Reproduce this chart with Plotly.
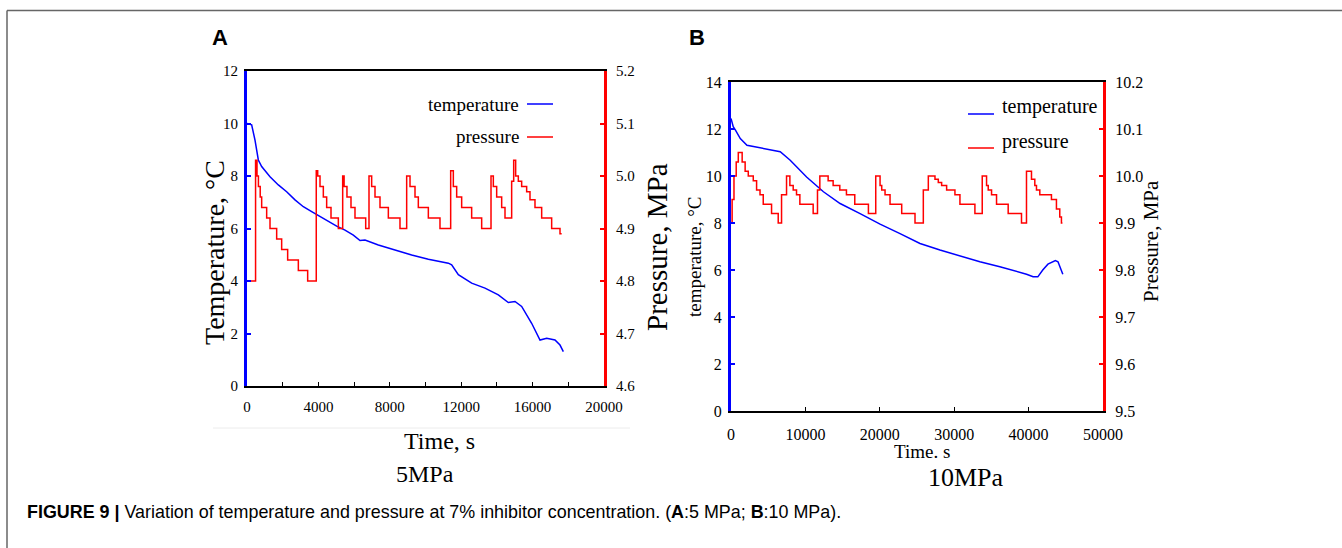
import plotly.graph_objects as go

W, H = 1342, 548

# ---------------- Panel A (5 MPa) ----------------
a_time_T = [0, 261, 448, 635, 822, 1289, 1755, 2222, 2689, 3156, 3623, 4090, 4556, 5023, 5490,
            5957, 6331, 6611, 7358, 8291, 9225, 10159, 11279, 11466, 11839, 12586, 13333, 14080,
            14640, 15014, 15387, 15947, 16415, 16788, 17255, 17535, 17722]
a_temp = [10.0, 9.95, 9.37, 8.61, 8.36, 7.97, 7.66, 7.40, 7.09, 6.83, 6.64, 6.45, 6.26, 6.09, 5.94,
          5.75, 5.54, 5.56, 5.37, 5.18, 4.99, 4.83, 4.68, 4.62, 4.24, 3.92, 3.73, 3.47,
          3.18, 3.22, 3.03, 2.39, 1.75, 1.82, 1.75, 1.56, 1.31]

a_time_P = [0, 480, 560, 640, 740, 822, 1102, 1289, 1662, 1942, 2278, 2876, 3399, 3880, 3960,
            4090, 4276, 4463, 4706, 5117, 5360, 5440, 5600, 5826, 6050, 6650, 6835, 6984, 7171, 7451,
            7918, 8571, 8945, 9132, 9412, 9598, 10159, 10812, 11410, 11559, 11746, 12026, 12586, 13147,
            13670, 13800, 13987, 14267, 14454, 14827, 14940, 15051, 15200, 15387, 15667, 15854, 16134,
            16508, 17068, 17535, 17628]
a_press = [4.80, 5.03, 5.00, 4.98, 4.96, 4.94, 4.92, 4.90, 4.88, 4.86, 4.84, 4.82, 4.80, 5.01, 5.00,
           4.98, 4.96, 4.94, 4.92, 4.90, 5.00, 4.98, 4.96, 4.94, 4.92, 4.90, 5.00, 4.98, 4.96, 4.94,
           4.92, 4.90, 5.00, 4.98, 4.96, 4.94, 4.92, 4.90, 5.01, 4.98, 4.96, 4.94, 4.92, 4.90,
           5.00, 4.98, 4.96, 4.94, 4.92, 4.99, 5.03, 5.00, 4.99, 4.98, 4.97, 4.955, 4.94,
           4.92, 4.90, 4.89, 4.89]

a_x_ticks = [0, 4000, 8000, 12000, 16000, 20000]
a_T_ticks = [0, 2, 4, 6, 8, 10, 12]
a_P_ticks = [4.6, 4.7, 4.8, 4.9, 5.0, 5.1, 5.2]

# ---------------- Panel B (10 MPa) ----------------
b_time_T = [0, 300, 600, 1248, 2147, 4375, 6616, 7958, 10158, 12426, 14667, 17351, 20035, 22719,
            25403, 28087, 30771, 33454, 36138, 37928, 39720, 40608, 41239, 41900, 42600, 43600,
            43950, 44600]
b_temp = [12.45, 12.1, 11.95, 11.59, 11.31, 11.17, 11.03, 10.67, 9.96, 9.33, 8.83, 8.40, 7.95, 7.55,
          7.13, 6.85, 6.59, 6.35, 6.14, 5.99, 5.82, 5.71, 5.71, 6.0, 6.25, 6.40,
          6.35, 5.82]

b_time_P = [0, 150, 400, 700, 980, 1500, 1900, 2322, 2993, 3440, 3900, 4334, 5452, 6347, 6794,
            7465, 7913, 8360, 8807, 9255, 11044, 11625, 11939, 13057, 13728, 14623, 15517, 16636,
            18469, 19454, 20035, 20259, 20706, 21377, 22943, 24732, 25850, 26521, 27416, 27863,
            28310, 28982, 30099, 30771, 32784, 33767, 34349, 34572, 35020, 35691, 37256, 39046,
            39717, 40388, 40835, 41059, 41506, 43071, 43742, 44190, 44413, 44550]
b_press = [9.90, 9.95, 10.00, 10.03, 10.05, 10.03, 10.01, 10.00, 9.99, 9.97, 9.96, 9.94, 9.92, 9.90, 9.96,
           10.00, 9.98, 9.97, 9.96, 9.94, 9.92, 9.97, 10.00, 9.99, 9.98, 9.97, 9.96, 9.94,
           9.92, 10.00, 9.98, 9.97, 9.96, 9.94, 9.92, 9.90, 9.97, 10.00, 9.993, 9.986,
           9.98, 9.97, 9.96, 9.94, 9.92, 10.00, 9.98, 9.97, 9.96, 9.94, 9.92, 9.90,
           10.01, 9.993, 9.98, 9.97, 9.96, 9.95, 9.93, 9.913, 9.90, 9.90]

b_x_ticks = [0, 10000, 20000, 30000, 40000, 50000]
b_T_ticks = [0, 2, 4, 6, 8, 10, 12, 14]
b_P_ticks = [9.5, 9.6, 9.7, 9.8, 9.9, 10.0, 10.1, 10.2]

BLUE = "#0000ff"
RED = "#ff0000"
SERIF = "Liberation Serif"


def px(x):
    return x / W


def py(y):
    return 1 - y / H


fig = go.Figure()
fig.add_trace(go.Scatter(x=a_time_T, y=a_temp, mode="lines", line=dict(color=BLUE, width=1.5),
                         xaxis="x", yaxis="y", showlegend=False))
fig.add_trace(go.Scatter(x=a_time_P, y=a_press, mode="lines", line=dict(color=RED, width=1.5, shape="hv"),
                         xaxis="x", yaxis="y2", showlegend=False))
fig.add_trace(go.Scatter(x=b_time_T, y=b_temp, mode="lines", line=dict(color=BLUE, width=1.5),
                         xaxis="x2", yaxis="y3", showlegend=False))
fig.add_trace(go.Scatter(x=b_time_P, y=b_press, mode="lines", line=dict(color=RED, width=1.5, shape="hv"),
                         xaxis="x2", yaxis="y4", showlegend=False))

tickfont_a = dict(family=SERIF, size=15, color="black")
tickfont_b = dict(family=SERIF, size=16, color="black")

common_x = dict(showline=True, linecolor="black", linewidth=2, mirror=True, ticks="inside",
                ticklen=4, tickcolor="black", showgrid=False, zeroline=False, automargin=False)
common_y = dict(showline=True, linewidth=3, ticks="inside", ticklen=4, tickwidth=2,
                showgrid=False, zeroline=False, automargin=False)

fig.update_layout(
    width=W, height=H, showlegend=False,
    margin=dict(l=0, r=0, t=0, b=0, pad=0, autoexpand=False),
    paper_bgcolor="white", plot_bgcolor="white",
    xaxis=dict(domain=[px(247), px(604)], range=[0, 20000], anchor="y", tickvals=a_x_ticks,
               ticktext=[str(v) for v in a_x_ticks], ticklabelstandoff=6,
               tickfont=tickfont_a, minor=dict(dtick=2000, ticks="inside", ticklen=4, tickcolor="black"),
               **common_x),
    yaxis=dict(domain=[py(386), py(71)], range=[0, 12], anchor="x", tickvals=a_T_ticks,
               ticklabelstandoff=3, linecolor=BLUE, tickcolor=BLUE, tickfont=tickfont_a, **common_y),
    yaxis2=dict(range=[4.6, 5.2], overlaying="y", anchor="x", side="right", tickvals=a_P_ticks,
                tickformat=".1f", ticklabelstandoff=6, linecolor=RED, tickcolor=RED,
                tickfont=tickfont_a, **common_y),
    xaxis2=dict(domain=[px(731), px(1103)], range=[0, 50000], anchor="y3", tickvals=b_x_ticks,
                ticktext=[str(v) for v in b_x_ticks], ticklabelstandoff=8, tickfont=tickfont_b, **common_x),
    yaxis3=dict(domain=[py(411), py(82)], range=[0, 14], anchor="x2", tickvals=b_T_ticks,
                ticklabelstandoff=3, linecolor=BLUE, tickcolor=BLUE, tickfont=tickfont_b, **common_y),
    yaxis4=dict(range=[9.5, 10.2], overlaying="y3", anchor="x2", side="right", tickvals=b_P_ticks,
                tickformat=".1f", ticklabelstandoff=6, linecolor=RED, tickcolor=RED,
                tickfont=tickfont_b, **common_y),
)

ann = []


def add_text(text, x, y, size, family=SERIF, angle=0, xanchor="center", yanchor="middle", color="black"):
    ann.append(dict(text=text, x=px(x), y=py(y), xref="paper", yref="paper", showarrow=False,
                    font=dict(family=family, size=size, color=color), textangle=angle,
                    xanchor=xanchor, yanchor=yanchor))


# panel letters
add_text("<b>A</b>", 220, 38, 22, family="Liberation Sans")
add_text("<b>B</b>", 697, 38, 22, family="Liberation Sans")

# panel A titles
add_text("Temperature, °C", 214, 253, 28, angle=-90)
add_text("Pressure, MPa", 657, 247, 29, angle=-90)
add_text("Time, s", 439, 441, 24)
add_text("5MPa", 425, 474, 24)

# panel B titles
add_text("temperature, °C", 694, 256, 19, angle=-90)
add_text("Pressure, MPa", 1151, 241, 21, angle=-90)
add_text("Time. s", 922, 451, 19)
add_text("10MPa", 966, 477, 26)

# legends
add_text("temperature", 521, 104, 19, xanchor="right")
add_text("pressure", 521, 136, 19, xanchor="right")
add_text("temperature", 1000, 106, 20, xanchor="left")
add_text("pressure", 1000, 141, 20, xanchor="left")

# caption
add_text("<b>FIGURE 9 |</b> Variation of temperature and pressure at 7% inhibitor concentration. "
         "(<b>A</b>:5 MPa; <b>B</b>:10 MPa).", 25, 512, 17.9,
         family="Liberation Sans", xanchor="left")

fig.update_layout(annotations=ann)

shapes = []


def add_line(x0, y0, x1, y1, color, width):
    shapes.append(dict(type="line", xref="paper", yref="paper", x0=px(x0), y0=py(y0), x1=px(x1), y1=py(y1),
                       line=dict(color=color, width=width)))


# legend samples
add_line(527, 104, 553, 104, BLUE, 1.5)
add_line(527, 137, 553, 137, RED, 1.5)
add_line(968, 114, 994, 114, BLUE, 1.5)
add_line(968, 148, 994, 148, RED, 1.5)

# frame of figure
add_line(7, 10.5, W, 10.5, "#666666", 1.5)
add_line(7, 10.5, 7, H, "#666666", 1.5)
# faint separator under panel A tick labels
add_line(213, 428, 630, 428, "#ececec", 1)

fig.update_layout(shapes=shapes)

post = ("document.documentElement.style.margin='0';document.documentElement.style.overflow='hidden';"
        "document.body.style.margin='0';document.body.style.overflow='hidden';")

fig.write_html("out.html", config={"displayModeBar": False}, post_script=post)
